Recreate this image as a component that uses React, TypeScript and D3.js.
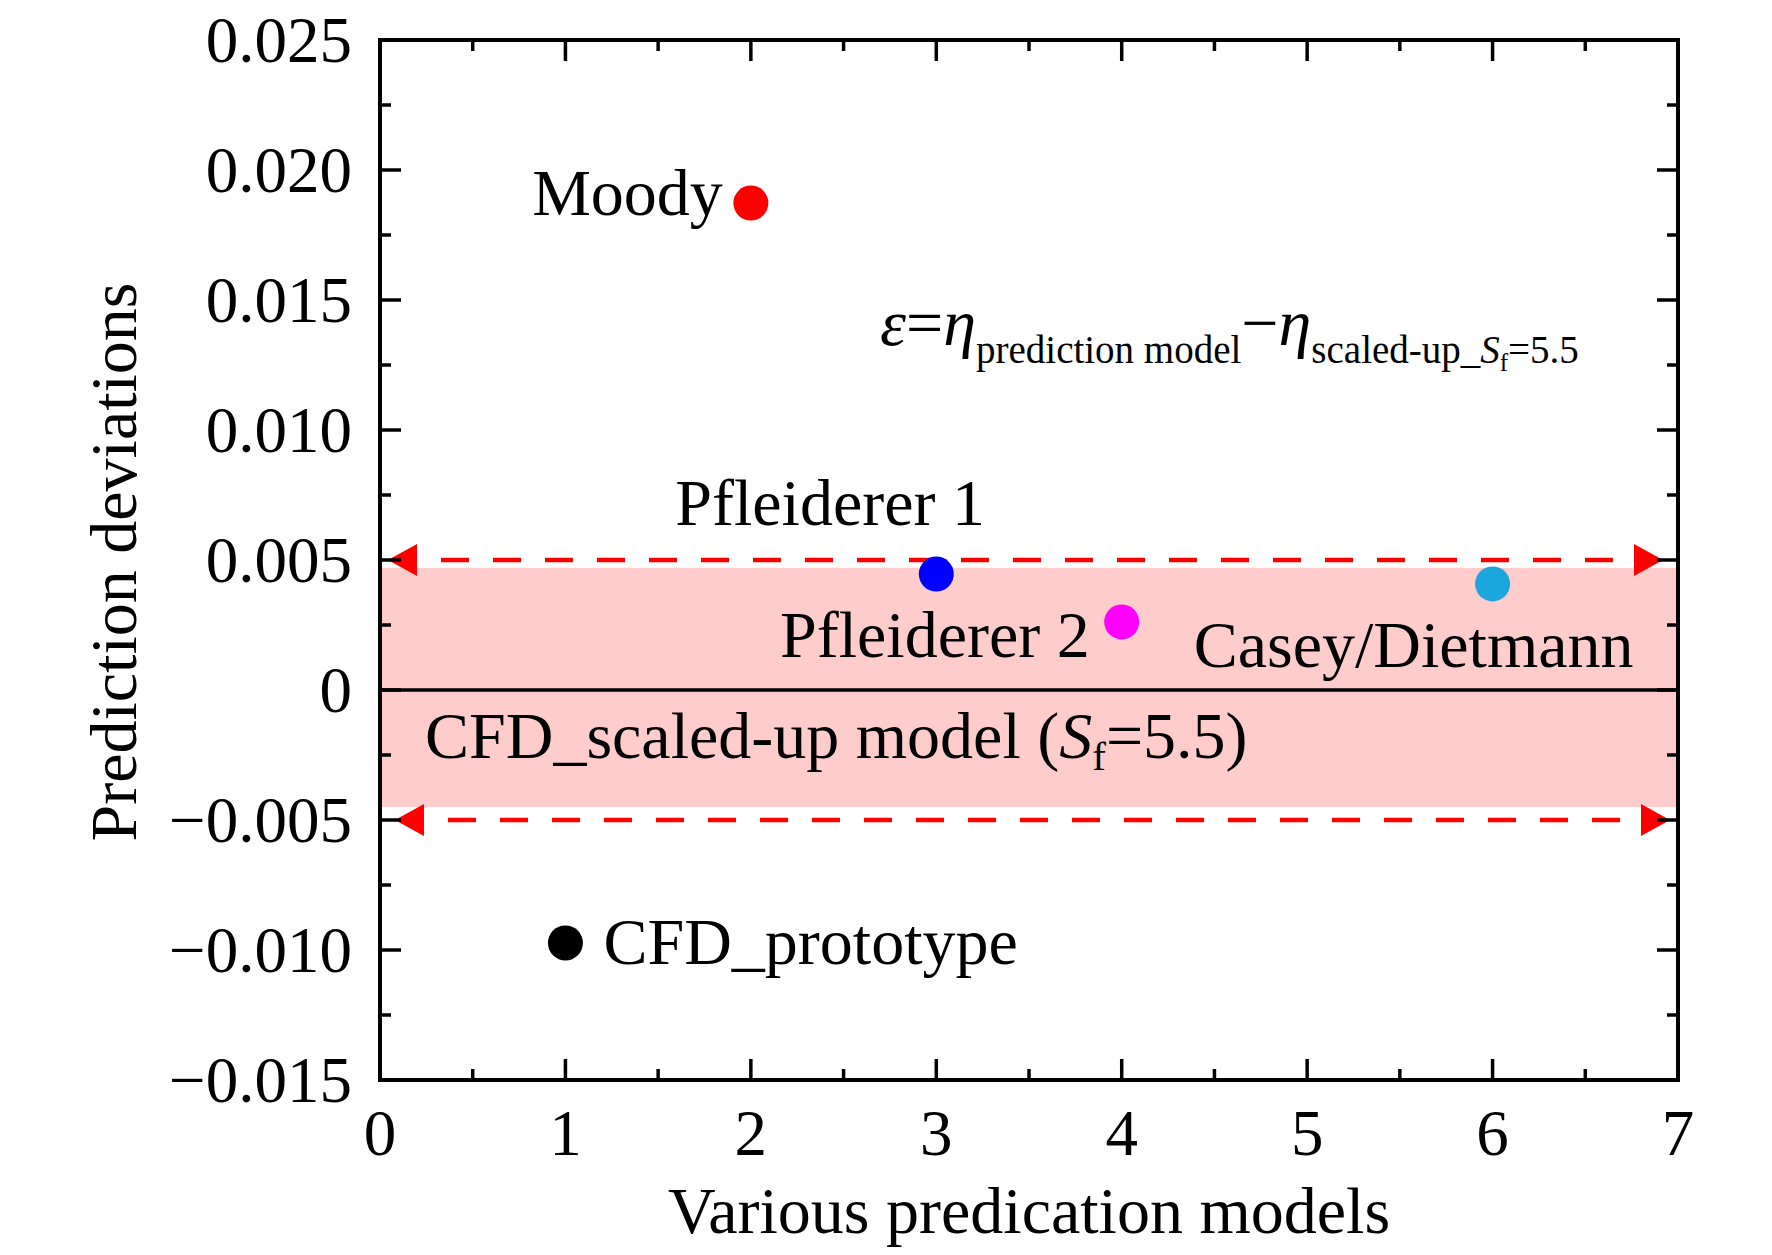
import React from "react";
import * as d3 from "d3";

// ---- data ----
const models = ["CFD_prototype", "Moody", "Pfleiderer 1", "Pfleiderer 2", "Casey/Dietmann"];
const modelX = [1, 2, 3, 4, 6];
const deviations = [-0.00973, 0.01873, 0.00446, 0.00262, 0.00408];
const pointColors = ["#000000", "#FF0000", "#0000FF", "#FF00FF", "#1BA6DE"];
const xTicks = [0, 1, 2, 3, 4, 5, 6, 7];
const yTicks = [-0.015, -0.01, -0.005, 0, 0.005, 0.01, 0.015, 0.02, 0.025];
const yTickLabels = ["\u22120.015", "\u22120.010", "\u22120.005", "0", "0.005", "0.010", "0.015", "0.020", "0.025"];
const toleranceLimits = [0.005, -0.005];
const bandRange = [0.0047, -0.0045];
const scaledUpValue = 0;

// label placement (pixel offsets from each point)
const labelLayout = [
  { dx: 38, dy: 21, anchor: "start" },
  { dx: -28, dy: 12, anchor: "end" },
  { dx: -261, dy: -49, anchor: "start" },
  { dx: -32, dy: 35, anchor: "end" },
  { dx: 141, dy: 83, anchor: "end" },
];

const W = 1772;
const H = 1255;
const M = { left: 380, right: 1678, top: 40, bottom: 1080 };
const FONT = "'Liberation Serif', 'Times New Roman', serif";
const FS = 66;

export default function App() {
  const x = d3.scaleLinear().domain([0, 7]).range([M.left, M.right]);
  const y = d3.scaleLinear().domain([-0.015, 0.025]).range([M.bottom, M.top]);

  const xMinor = d3.range(0.5, 7, 1);
  const yMinor = d3.range(-0.0125, 0.025, 0.005);
  const majorLen = 21;
  const minorLen = 11;
  const tickW = 3.5;

  const arrowH = 16;
  const tolLines = toleranceLimits.map((v, i) => {
    const yy = y(v);
    const lTip = M.left + (i === 0 ? 8 : 15);
    const lBase = lTip + 29;
    const rTip = M.right - (i === 0 ? 15 : 8);
    const rBase = rTip - 29;
    return { yy, lTip, lBase, rTip, rBase };
  });

  return (
    <svg width={W} height={H} style={{ position: "absolute", left: 0, top: 0, background: "#fff" }} fontFamily={FONT}>
      <rect x={0} y={0} width={W} height={H} fill="#fff" />
      {/* band */}
      <rect
        x={M.left}
        y={y(bandRange[0])}
        width={M.right - M.left}
        height={y(bandRange[1]) - y(bandRange[0])}
        fill="#FFCCCC"
      />
      {/* zero line */}
      <line x1={M.left} x2={M.right} y1={y(scaledUpValue)} y2={y(scaledUpValue)} stroke="#000" strokeWidth={3.5} />

      {/* tolerance dashed lines with arrows */}
      {tolLines.map((t, i) => (
        <g key={"tol" + i}>
          <line x1={t.lBase + 24} x2={t.rBase} y1={t.yy} y2={t.yy} stroke="#FF0000" strokeWidth={4.5} strokeDasharray="28 24" />
          <path d={`M${t.lTip},${t.yy} L${t.lBase},${t.yy - arrowH} L${t.lBase},${t.yy + arrowH} Z`} fill="#FF0000" />
          <path d={`M${t.rTip},${t.yy} L${t.rBase},${t.yy - arrowH} L${t.rBase},${t.yy + arrowH} Z`} fill="#FF0000" />
        </g>
      ))}

      {/* frame */}
      <rect x={M.left} y={M.top} width={M.right - M.left} height={M.bottom - M.top} fill="none" stroke="#000" strokeWidth={4} />

      {/* x ticks bottom & top */}
      {xTicks.map((t) => (
        <g key={"xt" + t}>
          <line x1={x(t)} x2={x(t)} y1={M.bottom} y2={M.bottom - majorLen} stroke="#000" strokeWidth={tickW} />
          <line x1={x(t)} x2={x(t)} y1={M.top} y2={M.top + majorLen} stroke="#000" strokeWidth={tickW} />
          <text x={x(t)} y={1155} textAnchor="middle" fontSize={65}>
            {t}
          </text>
        </g>
      ))}
      {xMinor.map((t) => (
        <g key={"xm" + t}>
          <line x1={x(t)} x2={x(t)} y1={M.bottom} y2={M.bottom - minorLen} stroke="#000" strokeWidth={tickW} />
          <line x1={x(t)} x2={x(t)} y1={M.top} y2={M.top + minorLen} stroke="#000" strokeWidth={tickW} />
        </g>
      ))}

      {/* y ticks left & right */}
      {yTicks.map((t, i) => (
        <g key={"yt" + i}>
          <line x1={M.left} x2={M.left + majorLen} y1={y(t)} y2={y(t)} stroke="#000" strokeWidth={tickW} />
          <line x1={M.right} x2={M.right - majorLen} y1={y(t)} y2={y(t)} stroke="#000" strokeWidth={tickW} />
          <text x={352} y={y(t) + 22} textAnchor="end" fontSize={65}>
            {yTickLabels[i]}
          </text>
        </g>
      ))}
      {yMinor.map((t, i) => (
        <g key={"ym" + i}>
          <line x1={M.left} x2={M.left + minorLen} y1={y(t)} y2={y(t)} stroke="#000" strokeWidth={tickW} />
          <line x1={M.right} x2={M.right - minorLen} y1={y(t)} y2={y(t)} stroke="#000" strokeWidth={tickW} />
        </g>
      ))}

      {/* axis titles */}
      <text x={(M.left + M.right) / 2} y={1233} textAnchor="middle" fontSize={FS}>
        Various predication models
      </text>
      <text transform={`translate(136,${(M.top + M.bottom) / 2 + 2}) rotate(-90)`} textAnchor="middle" fontSize={FS}>
        Prediction deviations
      </text>

      {/* points */}
      {models.map((m, i) => (
        <circle key={"p" + i} cx={x(modelX[i])} cy={y(deviations[i])} r={17.5} fill={pointColors[i]} />
      ))}

      {/* point labels */}
      {models.map((m, i) => (
        <text
          key={"l" + i}
          x={x(modelX[i]) + labelLayout[i].dx}
          y={y(deviations[i]) + labelLayout[i].dy}
          textAnchor={labelLayout[i].anchor as any}
          fontSize={FS}
        >
          {m}
        </text>
      ))}

      {/* scaled-up model label */}
      <text x={425} y={758} fontSize={FS}>
        CFD_scaled-up model (<tspan fontStyle="italic">S</tspan>
        <tspan fontSize={41} dy={12}>f</tspan>
        <tspan dy={-12}>=5.5)</tspan>
      </text>

      {/* equation */}
      <text x={880} y={345} fontSize={66}>
        <tspan fontStyle="italic">ε</tspan>
        <tspan>=</tspan>
        <tspan fontStyle="italic">η</tspan>
        <tspan fontSize={39} dy={18}>prediction model</tspan>
        <tspan dy={-18}>−</tspan>
        <tspan fontStyle="italic">η</tspan>
        <tspan fontSize={39} dy={18}>scaled-up_</tspan>
        <tspan fontSize={39} fontStyle="italic">S</tspan>
        <tspan fontSize={25} dy={8}>f</tspan>
        <tspan fontSize={39} dy={-8}>=5.5</tspan>
      </text>
    </svg>
  );
}
